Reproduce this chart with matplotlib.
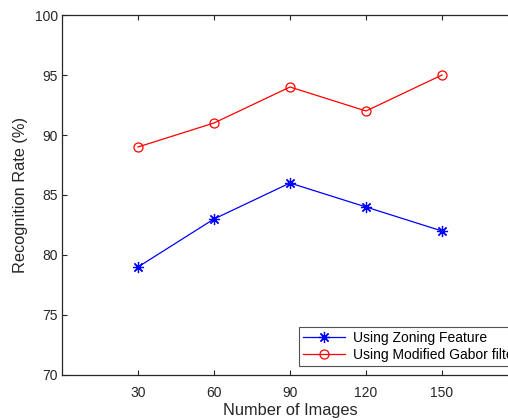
import matplotlib
matplotlib.use("Agg")
import matplotlib.pyplot as plt

images = [30, 60, 90, 120, 150]
zoning = [79, 83, 86, 84, 82]
gabor = [89, 91, 94, 92, 95]
xticks = [30, 60, 90, 120, 150]
yticks = [70, 75, 80, 85, 90, 95, 100]

plt.rcParams['font.family'] = ['Liberation Sans', 'DejaVu Sans']

W, H = 508, 420
fig = plt.figure(figsize=(W / 100, H / 100), dpi=100)
left, right, top, bottom = 62, 518, 15, 375
ax = fig.add_axes([left / W, 1 - bottom / H, (right - left) / W, (bottom - top) / H])

ax.plot(images, zoning, color='#0000ff', marker=(8, 2, 0), markersize=8, linewidth=0.9,
        markeredgewidth=0.9, label='Using Zoning Feature')
ax.plot(images, gabor, color='#ff0000', marker='o', markersize=6.5, linewidth=0.9,
        markerfacecolor='none', markeredgewidth=0.9, label='Using Modified Gabor filter')

ax.set_xlim(0, 180)
ax.set_ylim(70, 100)
ax.set_xticks(xticks)
ax.set_yticks(yticks)
ax.tick_params(direction='in', length=3.5, width=0.8, top=True, right=True,
               labelsize=10, colors='#262626', pad=8)
ax.tick_params(axis='y', pad=3)
for s in ax.spines.values():
    s.set_linewidth(0.9)
    s.set_color('#262626')

ax.set_xlabel('Number of Images', fontsize=11.8, color='#262626', labelpad=2)
ax.set_ylabel('Recognition Rate (%)', fontsize=11.8, color='#262626', labelpad=5)

leg = ax.legend(loc='upper left', bbox_to_anchor=(299 / W, 1 - 327 / H),
                bbox_transform=fig.transFigure, fontsize=10, frameon=True,
                fancybox=False, borderaxespad=0, borderpad=0.3, handlelength=3.0,
                handletextpad=0.6, labelspacing=0.2)
leg.get_frame().set_edgecolor('#262626')
leg.get_frame().set_linewidth(0.8)

fig.savefig('out.png', dpi=100)
